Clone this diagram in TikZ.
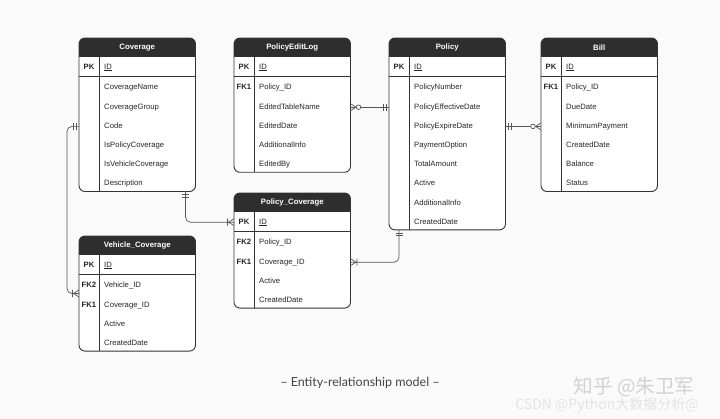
\documentclass[tikz,border=0pt]{standalone}
\usepackage{fontspec}
\setmainfont{Liberation Sans}
\newfontfamily\captionfont{Lato}
\newfontfamily\cjkfont{Noto Sans CJK SC}
\usetikzlibrary{calc}

\definecolor{headdark}{HTML}{2E2E2E}
\definecolor{framegray}{HTML}{333333}
\definecolor{linegray}{HTML}{555555}
\definecolor{pagebg}{HTML}{FAFAFA}
\definecolor{captiongray}{HTML}{444444}

\tikzset{
	tabframe/.style={fill=white, rounded corners=6pt, minimum width=116.5pt, inner sep=0pt, outer sep=0pt},
	tabborder/.style={draw=framegray, line width=0.9pt},
	tabtitle/.style={text=white, font=\fontsize{7.8}{9}\selectfont\bfseries},
	keytxt/.style={font=\fontsize{7.7}{9}\selectfont\bfseries, text=black!85, inner sep=0pt, text height=5.6pt, text depth=1.6pt},
	fieldtxt/.style={font=\fontsize{7.7}{9}\selectfont, text=black!85, anchor=west, inner sep=0pt, text height=5.6pt, text depth=1.6pt},
	relline/.style={draw=linegray, line width=0.7pt},
	pics/erone/.style={code={\draw[relline] (3,-3.5) -- (3,3.5) (5.5,-3.5) -- (5.5,3.5);}},
	pics/ermany/.style={code={\draw[relline] (0,-3.5) -- (5.5,0) -- (0,3.5);}},
	pics/eronemany/.style={code={\draw[relline] (0,-3.5) -- (5.5,0) -- (0,3.5) (6.5,-3.5) -- (6.5,3.5);}},
	pics/erzeromany/.style={code={\draw[relline] (0,-3.5) -- (5.5,0) -- (0,3.5); \draw[relline, fill=pagebg] (8,0) circle (2.3);}}
}

% #1 name, #2 top left, #3 title, #4 rows, #5 key/field list
\newcommand{\ertable}[5]{%
	\pgfmathsetmacro{\tabh}{57.5+19.2*(#4-1)}
	\node[tabframe, minimum height=\tabh pt, anchor=north west] (#1) at (#2) {};
	\begin{scope}
		\clip[rounded corners=6pt] (#1.north west) rectangle (#1.south east);
		\fill[headdark] (#1.north west) rectangle ([yshift=-19pt]#1.north east);
	\end{scope}
	\draw[tabborder, rounded corners=6pt] (#1.north west) rectangle (#1.south east);
	\draw[tabborder] ([yshift=-38pt]#1.north west) -- ([yshift=-38pt]#1.north east);
	\draw[tabborder] ([xshift=20.3pt,yshift=-19pt]#1.north west) -- ([xshift=20.3pt]#1.south west);
	\node[tabtitle] (#1-title) at ([yshift=-9.8pt]#1.north) {#3};
	\node[keytxt] (#1-pk) at ([xshift=10pt,yshift=-29.2pt]#1.north west) {PK};
	\node[fieldtxt] (#1-id) at ([xshift=25pt,yshift=-29.2pt]#1.north west) {\underline{ID}};
	\foreach \k/\f [count=\i] in {#5} {
		\node[keytxt] (#1-k\i) at ([xshift=10pt,yshift={-50pt-19.2pt*(\i-1)}]#1.north west) {\k};
		\node[fieldtxt] (#1-f\i) at ([xshift=25pt,yshift={-50pt-19.2pt*(\i-1)}]#1.north west) {\f};
	}
}

\begin{document}
\begin{tikzpicture}[x=1pt, y=-1pt]
	\path[use as bounding box, fill=pagebg] (0,0) rectangle (720,419);

	\ertable{cov}{79,38}{Coverage}{6}{ /CoverageName, /CoverageGroup, /Code, /IsPolicyCoverage, /IsVehicleCoverage, /Description}
	\ertable{pel}{234,38}{PolicyEditLog}{5}{FK1/Policy\_ID, /EditedTableName, /EditedDate, /AdditionalInfo, /EditedBy}
	\ertable{pol}{389,38}{Policy}{8}{ /PolicyNumber, /PolicyEffectiveDate, /PolicyExpireDate, /PaymentOption, /TotalAmount, /Active, /AdditionalInfo, /CreatedDate}
	\ertable{bill}{541,38}{Bill}{6}{FK1/Policy\_ID, /DueDate, /MinimumPayment, /CreatedDate, /Balance, /Status}
	\ertable{pc}{234,193}{Policy\_Coverage}{4}{FK2/Policy\_ID, FK1/Coverage\_ID, /Active, /CreatedDate}
	\ertable{vc}{79,236}{Vehicle\_Coverage}{4}{FK2/Vehicle\_ID, FK1/Coverage\_ID, /Active, /CreatedDate}

	\draw[relline] (pel.east |- pel-f2) -- (pol.west |- pel-f2);
	\pic at (pel.east |- pel-f2) {erzeromany};
	\pic[rotate=180] at (pol.west |- pel-f2) {erone};

	\draw[relline] (pol.east |- pol-f3) -- (bill.west |- pol-f3);
	\pic at (pol.east |- pol-f3) {erone};
	\pic[rotate=180] at (bill.west |- pol-f3) {erzeromany};

	\coordinate (vcin) at ($(vc.west |- vc-f1)+(0,7.5)$);
	\draw[relline, rounded corners=5pt] (cov.west |- cov-f3) -- ++(-12,0) |- (vcin);
	\pic[rotate=180] at (cov.west |- cov-f3) {erone};
	\pic[rotate=180] at (vcin) {eronemany};

	\coordinate (covout) at ([xshift=-10pt]cov.south east);
	\draw[relline, rounded corners=5pt] (covout) |- (pc.west |- pc-pk);
	\pic[rotate=-90] at (covout) {erone};
	\pic[rotate=180] at (pc.west |- pc-pk) {eronemany};

	\coordinate (polout) at ([xshift=10pt]pol.south west);
	\draw[relline, rounded corners=5pt] (polout) |- (pc.east |- pc-f2);
	\pic[rotate=-90] at (polout) {erone};
	\pic at (pc.east |- pc-f2) {eronemany};

	\node[font=\captionfont\fontsize{12.5}{14}\selectfont, text=captiongray] (caption) at (360,383) {– Entity-relationship model –};
	\node[font=\cjkfont\fontsize{19.5}{22}\selectfont, text=gray!35, inner sep=0pt] (zhihu) at (634,386.5) {知乎 @朱卫军};
	\node[font=\cjkfont\fontsize{14}{16}\selectfont, text=gray!22, inner sep=0pt] (csdn) at (607,405.5) {CSDN @Python大数据分析@};
\end{tikzpicture}
\end{document}
